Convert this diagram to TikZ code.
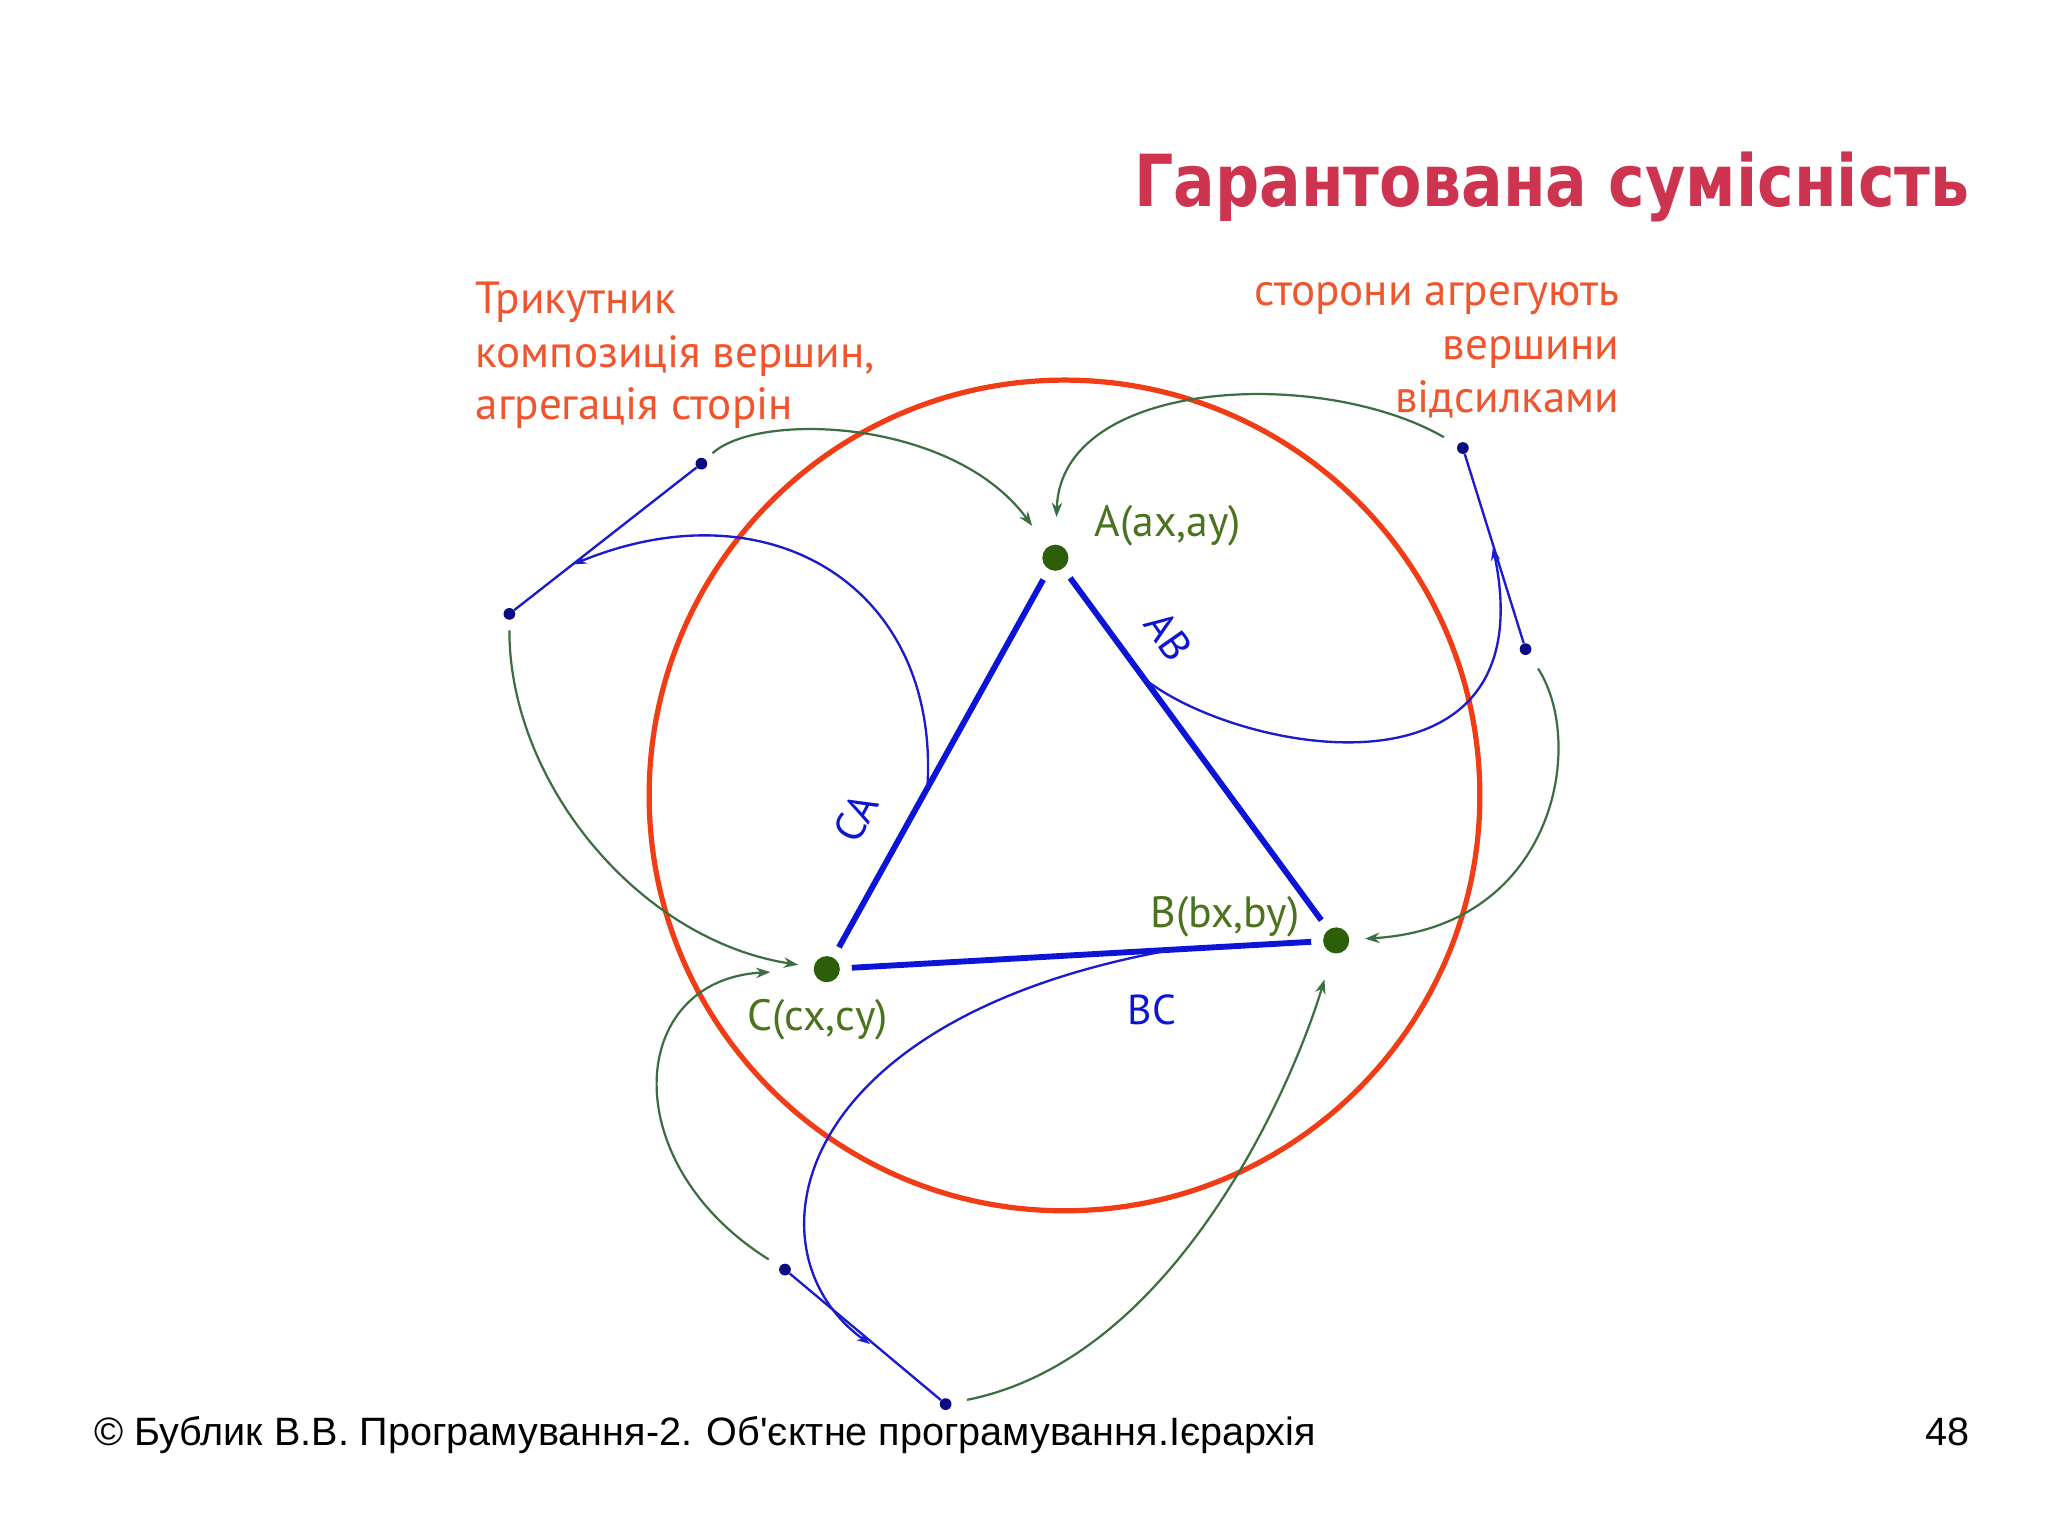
\documentclass[tikz,border=0pt]{standalone}
\usepackage{fontspec}
\usepackage{graphicx}
\setmainfont{PT Sans}
\newfontfamily\titlefont{DejaVu Sans}
\newfontfamily\footfont{Liberation Sans}
\usetikzlibrary{arrows.meta,calc}
\definecolor{ttl}{RGB}{205,52,80}
\definecolor{org}{RGB}{240,85,45}
\definecolor{circ}{RGB}{242,60,22}
\definecolor{sideblue}{RGB}{12,20,215}
\definecolor{thinblue}{RGB}{28,28,205}
\definecolor{navy}{RGB}{10,10,130}
\definecolor{garr}{RGB}{60,110,65}
\definecolor{glab}{RGB}{75,115,30}
\definecolor{gdot}{RGB}{45,95,10}
\tikzset{
  vdot/.style={circle,fill=gdot,inner sep=0pt,minimum size=20pt},
  pdot/.style={circle,fill=navy,inner sep=0pt,minimum size=9pt},
  sideline/.style={draw=sideblue,line width=4.5pt,shorten <=9pt,shorten >=9pt},
  seg/.style={draw=thinblue,line width=1.8pt},
  link/.style={draw=thinblue,line width=1.8pt,-{Stealth[length=10pt,width=7pt]}},
  refarrow/.style={draw=garr,line width=1.7pt,-{Stealth[length=11pt,width=8pt]}},
  orangetxt/.style={text=org,inner sep=0pt,font=\fontsize{34.5}{40}\selectfont},
  vlabel/.style={text=glab,inner sep=0pt,font=\fontsize{33.5}{38}\selectfont},
  slabel/.style={text=sideblue,inner sep=0pt,font=\fontsize{32}{36}\selectfont},
  foot/.style={text=black,inner sep=0pt,font=\footfont\fontsize{30.3}{34}\selectfont}
}
\begin{document}
\begin{tikzpicture}[x=1pt,y=-1pt]
\useasboundingbox[fill=white] (0,0) rectangle (1568,1176);

% title
\node[anchor=base east,text=ttl,inner sep=0pt,font=\titlefont\bfseries\fontsize{55}{60}\selectfont] (title) at (1508,158) {\scalebox{0.86}[1]{Гарантована сумісність}};

% orange notes
\node[orangetxt,anchor=base west] (l1) at (364,240) {Трикутник};
\node[orangetxt,anchor=base west] (l2) at (364,281) {композиція вершин,};
\node[orangetxt,anchor=base west] (l3) at (364,321) {агрегація сторін};
\node[orangetxt,anchor=base east] (r1) at (1240,234) {сторони агрегують};
\node[orangetxt,anchor=base east] (r2) at (1240,275) {вершини};
\node[orangetxt,anchor=base east] (r3) at (1240,316) {відсилками};

% red circle
\node[circle,draw=circ,line width=4pt,minimum size=636pt,inner sep=0pt] (ring) at (815,609) {};

% vertices
\node[vdot] (A) at (808,427) {};
\node[vdot] (B) at (1023,720) {};
\node[vdot] (C) at (633,742) {};
\node[vlabel,anchor=base west] (Alab) at (838,411) {A(ax,ay)};
\node[vlabel,anchor=base east] (Blab) at (995,710) {B(bx,by)};
\node[vlabel,anchor=base west] (Clab) at (572,789) {C(cx,cy)};

% sides
\draw[sideline] (C) -- (A);
\draw[sideline] (A) -- (B);
\draw[sideline] (C) -- (B);
\node[slabel,rotate=62] (CAlab) at (655,626) {CA};
\node[slabel,rotate=-55] (ABlab) at (895,487) {AB};
\node[slabel] (BClab) at (882,773) {BC};

% reference pairs
\node[pdot] (P1) at (537,355) {};
\node[pdot] (P3) at (390,470) {};
\coordinate (P2) at (439,432);
\node[pdot] (Q1) at (1120,343) {};
\node[pdot] (Q3) at (1168,497) {};
\coordinate (Q2) at (1143,419);
\node[pdot] (R1) at (601,972) {};
\node[pdot] (R3) at (724,1075) {};
\coordinate (R2) at (666,1029);

\draw[seg] (P1) -- (P3);
\draw[seg] (Q1) -- (Q3);
\draw[seg] (R1) -- (R3);

% side -> pair links
\coordinate (caS) at ($(C)!0.44!(A)$);
\coordinate (abS) at ($(A)!0.316!(B)$);
\coordinate (bcS) at ($(C)!0.68!(B)$);
\draw[link] (caS) .. controls (720,450) and (590,370) .. (P2);
\draw[link] (abS) .. controls (950,578) and (1185,620) .. (Q2);
\draw[link] (bcS) .. controls (600,780) and (570,960) .. (R2);

% pointers -> vertices
\draw[refarrow,shorten <=7pt,shorten >=20pt] (P1) .. controls (580,315) and (730,320) .. (A);
\draw[refarrow,shorten <=12pt,shorten >=21pt] (Q1) .. controls (1010,280) and (812,290) .. (A);
\draw[refarrow,shorten <=8pt,shorten >=12pt] (P3) .. controls (390,600) and (490,720) .. (C);
\draw[refarrow,shorten <=13pt,shorten >=12pt] (Q3) .. controls (1215,570) and (1190,710) .. (B);
\draw[refarrow,shorten <=10pt,shorten >=33pt] (R1) .. controls (470,890) and (480,750) .. (C);
\draw[refarrow,shorten <=12pt,shorten >=21pt] (R3) .. controls (900,1040) and (990,830) .. (B);

% footer
\node[foot,anchor=base west] (footer) at (72,1107) {© Бублик В.В. Програмування-2. Об'єктне програмування.Ієрархія};
\node[foot,anchor=base east] (page) at (1508,1107) {48};
\end{tikzpicture}
\end{document}
